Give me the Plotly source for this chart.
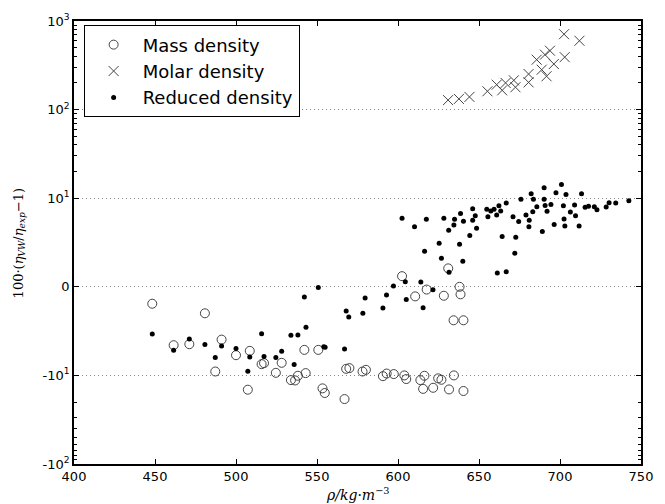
import numpy as np
import plotly.graph_objects as go

# ---- data (original units) ----
mass_rho = [448.3, 461.5, 471.2, 480.8, 487.2, 491.1, 500.0, 508.5, 507.3, 515.8, 517.3, 524.6,
            528.2, 533.9, 536.5, 538.2, 543.0, 542.2, 550.8, 553.4, 554.8, 567.0, 568.0, 570.0,
            578.1, 580.2, 590.7, 593.0, 597.4, 603.9, 605.1, 613.8, 615.5, 616.3, 621.7, 602.5,
            610.6, 617.7, 631.0, 628.3, 638.0, 638.6, 634.3, 640.4, 624.8, 626.8, 634.5, 631.5, 640.4]
mass_dev = [-1.91, -6.59, -6.48, -2.99, -9.56, -5.96, -7.72, -7.23, -14.5, -8.73, -8.62, -9.71,
            -8.58, -11.3, -11.4, -10.1, -9.74, -7.12, -7.12, -14.0, -15.8, -18.5, -9.26, -9.18,
            -9.56, -9.37, -10.2, -9.79, -9.85, -10.0, -11.0, -11.3, -14.2, -10.1, -13.8, 1.20,
            -1.08, -0.31, 2.08, -1.01, 0.0, -0.85, -3.78, -3.78, -10.8, -11.2, -10.0, -14.4, -15.0]

molar_rho = [630.9, 637.6, 644.1, 655.2, 660.9, 664.3, 666.4, 671.5, 672.5, 680.6, 680.6, 685.6,
             688.7, 690.7, 691.7, 693.8, 696.2, 702.5, 702.9, 712.0]
molar_dev = [128, 132, 139, 161, 191, 165, 200, 214, 179, 252, 203, 366,
             282, 417, 238, 462, 327, 710, 391, 598]

red_rho = [448.3, 461.5, 471.2, 480.8, 487.2, 491.1, 500.0, 508.5, 507.3, 515.8, 517.3, 524.6,
           528.2, 533.9, 538.2, 535.9, 542.2, 543.2, 550.8, 554.2, 555.0, 567.0, 568.0, 569.6,
           578.3, 579.7, 590.7, 592.9, 597.2, 604.5, 605.1, 614.1, 615.5, 621.6, 616.4, 602.5,
           610.2, 617.5, 625.4, 626.8, 628.3, 631.3, 631.5, 634.5, 634.9, 638.0, 638.6, 640.0,
           640.4, 644.3, 646.1, 646.1, 647.7, 648.5, 654.8, 655.5, 657.3, 659.3, 660.9, 662.3,
           663.4, 664.3, 661.3, 666.8, 666.8, 671.0, 672.7, 672.1, 674.5, 675.9, 679.0, 681.0,
           680.8, 682.2, 683.2, 683.6, 685.7, 689.1, 690.2, 690.2, 690.8, 692.0, 694.4, 696.4,
           697.5, 700.9, 702.1, 702.5, 703.0, 703.7, 706.4, 709.0, 709.6, 711.8, 713.3, 715.5,
           717.6, 721.2, 722.8, 728.5, 730.3, 734.4, 742.5]
red_dev = [-5.32, -7.15, -5.88, -6.52, -7.99, -6.67, -6.97, -7.91, -9.52, -5.29, -7.87, -7.99,
           -7.27, -5.47, -5.43, -8.77, -1.16, -4.57, -0.07, -6.78, -6.82, -7.01, -2.73, -3.41,
           -2.99, -1.27, -2.40, -0.93, 0.08, 0.56, -1.42, 0.53, -2.36, -0.34, 4.02, 7.73,
           6.79, 7.62, 4.92, 3.23, 7.73, 6.38, 1.65, 6.97, 7.62, 4.80, 8.26, 2.89,
           7.39, 5.78, 8.82, 7.50, 8.03, 6.60, 8.74, 7.92, 8.55, 8.74, 8.10, 9.16,
           8.55, 5.67, 1.57, 9.45, 1.69, 7.92, 5.59, 3.79, 7.36, 9.87, 8.10, 7.50,
           6.79, 11.2, 8.48, 9.87, 9.04, 6.23, 13.1, 9.87, 9.19, 8.52, 9.30, 7.02,
           11.5, 14.3, 9.16, 7.65, 6.86, 11.0, 8.44, 9.22, 8.03, 6.86, 11.2, 8.97,
           9.08, 9.04, 8.71, 9.00, 9.49, 9.45, 9.72]

ytick_values = [-100, -10, 0, 10, 100, 1000]
ytick_labels = ['-10<sup>2</sup>', '-10<sup>1</sup>', '0', '10<sup>1</sup>', '10<sup>2</sup>', '10<sup>3</sup>']

LINTHRESH = 10.0


def symlog(v):
    v = np.asarray(v, dtype=float)
    a = np.abs(v)
    out = np.where(a <= LINTHRESH, v / LINTHRESH,
                   np.sign(v) * (1 + np.log10(np.maximum(a, 1e-12) / LINTHRESH)))
    return out


minor_vals = []
for dec in [10, 100]:
    for k in range(2, 10):
        minor_vals.append(k * dec)
        if dec == 10:
            minor_vals.append(-k * dec)
minor_t = list(symlog(minor_vals))

fig = go.Figure()
fig.add_trace(go.Scatter(x=mass_rho, y=symlog(mass_dev), mode='markers', name='Mass density',
                         marker=dict(symbol='circle-open', size=9, color='#444',
                                     line=dict(width=1, color='#444'))))
fig.add_trace(go.Scatter(x=molar_rho, y=symlog(molar_dev), mode='markers', name='Molar density',
                         marker=dict(symbol='x-thin-open', size=10, color='#444',
                                     line=dict(width=1, color='#444'))))
fig.add_trace(go.Scatter(x=red_rho, y=symlog(red_dev), mode='markers', name='Reduced density',
                         marker=dict(symbol='circle', size=5, color='black')))

tick_font = dict(family='DejaVu Sans', size=13, color='black')

fig.update_layout(
    width=665, height=504,
    margin=dict(l=74, r=16, t=20, b=40),
    plot_bgcolor='white', paper_bgcolor='white',
    showlegend=True,
    legend=dict(x=0.017, y=0.99, xanchor='left', yanchor='top',
                bgcolor='white', bordercolor='black', borderwidth=1,
                font=dict(family='DejaVu Sans', size=18, color='black'),
                tracegroupgap=0, itemwidth=48),
    xaxis=dict(range=[400, 750], dtick=50, tick0=400, ticks='inside', ticklen=5,
               tickcolor='black', showline=True, linecolor='black', linewidth=1.5,
               mirror='ticks', showgrid=False, zeroline=False, tickfont=tick_font),
    yaxis=dict(range=[-2, 3], tickmode='array', tickvals=list(symlog(ytick_values)),
               ticktext=ytick_labels, ticks='inside', ticklen=5, tickcolor='black',
               showline=True, linecolor='black', linewidth=1.5, mirror='ticks',
               showgrid=True, gridcolor='#888', griddash='1px,3px', gridwidth=1,
               zeroline=False, tickfont=tick_font,
               minor=dict(tickmode='array', tickvals=minor_t, ticks='inside', ticklen=3,
                          tickcolor='black', showgrid=False)),
    annotations=[
        dict(text='<i>ρ/kg</i>·<i>m</i><sup>−3</sup>', xref='paper', yref='paper',
             x=0.5, y=-0.068, xanchor='center', yanchor='middle', showarrow=False,
             font=dict(family='DejaVu Serif', size=14, color='black')),
        dict(text='100·(<i>η</i><sub><i>VW</i></sub>/<i>η</i><sub><i>exp</i></sub>−1)',
             xref='paper', yref='paper', x=-0.097, y=0.498, xanchor='center', yanchor='middle',
             textangle=-90, showarrow=False,
             font=dict(family='DejaVu Serif', size=13, color='black')),
    ],
)

fig.write_html('out.html', config={'displayModeBar': False},
               post_script="document.body.style.margin='0';")
